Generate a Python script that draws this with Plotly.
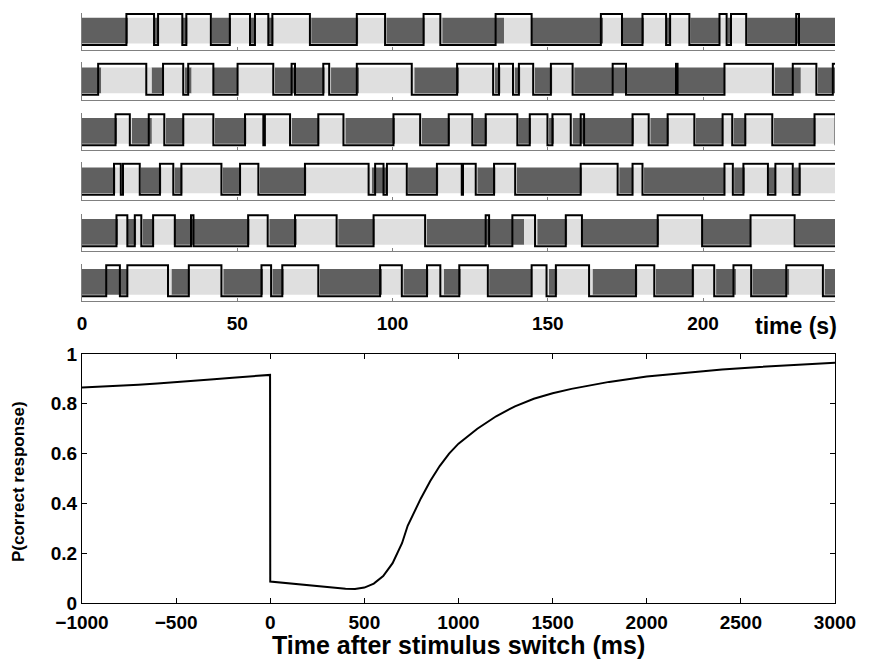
import plotly.graph_objects as go

T_END = 242.5

# ---- top panel: stimulus light intervals (s) and response-high intervals (s), per row ----
stim_light_1 = [(14.8, 23.5), (24.8, 32.2), (34.0, 41.8), (48.0, 54.3), (56.0, 60.2), (61.7, 73.8), (89.0, 98.0),
                (110.4, 116.0), (135.9, 144.9), (167.8, 174.2), (181.0, 188.3), (189.6, 195.9), (205.6, 207.8),
                (209.3, 214.2)]
resp_high_1 = [(14.3, 23.2), (24.5, 32.3), (33.6, 41.5), (47.6, 54.1), (55.7, 60.0), (61.3, 73.4), (88.5, 97.6),
               (110.0, 115.4), (133.2, 144.8), (167.1, 173.9), (180.5, 188.1), (189.4, 195.6), (205.3, 207.6),
               (209.0, 213.9), (230.0, 230.9)]

stim_light_2 = [(6.2, 22.4), (26.1, 33.1), (35.3, 42.4), (50.3, 62.1), (78.2, 80.2), (89.2, 107.0), (121.5, 133.0),
                (134.8, 139.3), (141.2, 145.8), (151.5, 158.5), (207.2, 223.0), (231.5, 237.0)]
resp_high_2 = [(5.2, 20.7), (26.1, 32.6), (34.2, 42.3), (50.1, 61.6), (67.5, 68.6), (77.7, 79.6), (88.5, 106.2),
               (120.8, 132.4), (134.3, 138.8), (140.7, 145.3), (151.0, 158.0), (170.9, 175.2), (191.3, 191.8),
               (206.9, 222.5), (228.9, 236.5), (241.8, 243.0)]

stim_light_3 = [(11.3, 16.0), (22.5, 27.0), (33.0, 42.8), (53.0, 67.5), (76.5, 84.8), (100.8, 109.4), (118.5, 126.0),
                (130.5, 140.5), (144.6, 150.4), (152.0, 158.0), (177.8, 183.0), (189.0, 197.6), (206.6, 209.8),
                (214.0, 222.8), (236.3, 243.0)]
resp_high_3 = [(10.8, 15.4), (21.5, 26.5), (32.6, 42.3), (52.5, 58.4), (58.9, 67.0), (76.1, 84.2), (100.3, 108.9),
               (118.1, 125.7), (130.0, 140.2), (144.2, 149.9), (151.5, 157.4), (160.6, 161.7), (177.3, 182.5),
               (188.6, 197.2), (206.3, 209.4), (213.6, 222.3), (235.9, 242.7)]

stim_light_4 = [(10.8, 19.0), (25.6, 29.8), (32.4, 45.3), (51.3, 57.2), (72.3, 93.3), (98.2, 105.0), (114.8, 127.3),
                (133.2, 140.0), (161.0, 173.0), (177.6, 181.0), (207.2, 210.0), (213.5, 221.2), (223.6, 229.3),
                (231.5, 243.0)]
resp_high_4 = [(10.3, 12.5), (13.2, 18.6), (25.1, 29.4), (32.0, 44.9), (50.9, 56.8), (71.8, 92.3), (94.4, 97.1),
               (98.2, 104.6), (114.3, 122.3), (122.7, 126.8), (132.7, 139.5), (160.6, 172.5), (177.3, 180.5),
               (206.9, 209.6), (213.0, 220.9), (223.3, 228.9), (231.1, 243.0)]

stim_light_5 = [(11.6, 14.8), (17.5, 19.5), (23.3, 29.5), (54.0, 60.3), (69.2, 82.5), (94.3, 111.0), (142.4, 146.6),
                (156.3, 160.7), (185.9, 199.9), (215.5, 229.9)]
resp_high_5 = [(11.1, 14.6), (17.0, 19.1), (22.9, 29.9), (35.1, 35.9), (53.5, 59.8), (68.6, 82.0), (93.9, 110.5),
               (130.0, 131.1), (138.6, 145.9), (155.8, 161.0), (185.4, 199.7), (215.3, 229.5)]

stim_light_6 = [(14.8, 28.8), (34.7, 45.5), (58.3, 61.3), (65.0, 76.5), (96.6, 103.5), (111.6, 116.5), (122.0, 131.1),
                (145.1, 150.4), (153.1, 164.4), (178.9, 184.8), (197.2, 204.2), (210.6, 215.9), (227.8, 239.1)]
resp_high_6 = [(7.8, 12.2), (14.6, 27.7), (34.4, 44.9), (57.8, 60.9), (64.5, 76.1), (96.0, 103.0), (111.1, 115.4),
               (121.5, 130.7), (144.8, 149.6), (152.6, 163.3), (178.4, 184.3), (196.7, 203.6), (209.8, 215.5),
               (226.8, 238.6)]

stim_rows = [stim_light_1, stim_light_2, stim_light_3, stim_light_4, stim_light_5, stim_light_6]
resp_rows = [resp_high_1, resp_high_2, resp_high_3, resp_high_4, resp_high_5, resp_high_6]

top_ticks = [0, 50, 100, 150, 200]

# ---- bottom panel: P(correct response) vs time after switch (ms) ----
t_ms = [-1000, -900, -800, -700, -600, -500, -400, -300, -200, -100, -1, 0, 50, 100, 200, 300, 400, 450, 500, 550,
        600, 650, 700, 730, 760, 800, 850, 900, 950, 1000, 1050, 1100, 1200, 1300, 1400, 1500, 1600, 1800, 2000,
        2200, 2400, 2600, 2800, 3000]
p_correct = [0.865, 0.868, 0.872, 0.877, 0.882, 0.887, 0.893, 0.899, 0.905, 0.910, 0.916, 0.086, 0.082, 0.078,
             0.071, 0.064, 0.057, 0.056, 0.062, 0.078, 0.108, 0.160, 0.240, 0.310, 0.360, 0.420, 0.490, 0.550,
             0.600, 0.640, 0.670, 0.700, 0.750, 0.790, 0.820, 0.842, 0.860, 0.888, 0.910, 0.925, 0.938, 0.948,
             0.957, 0.965]
bottom_xticks = [-1000, -500, 0, 500, 1000, 1500, 2000, 2500, 3000]
bottom_yticks = [0, 0.2, 0.4, 0.6, 0.8, 1]
bottom_yticklabels = ["0", "0.2", "0.4", "0.6", "0.8", "1"]

DARK = "#606060"
LIGHT = "#dfdfdf"
AXGREY = "#808080"
FAM = "Liberation Sans, Arial, sans-serif"
FONT = dict(family=FAM, size=19, color="black", weight="bold")

W, H = 876, 662


def fx(px):
    return px / W


def fy(py):
    return 1 - py / H


X0, X1 = fx(82), fx(835)
row_axis_px = [49.7, 99.5, 150.0, 199.5, 251.0, 301.0]
Y_LO, Y_HI = -0.15, 1.05
row_span_px = (Y_HI - Y_LO) * 31.0

fig = go.Figure()
layout = dict(width=W, height=H, margin=dict(l=0, r=0, t=0, b=0, autoexpand=False), paper_bgcolor="white",
              plot_bgcolor="rgba(0,0,0,0)", showlegend=False, barmode="overlay")

for i in range(6):
    n = i + 1
    xa = "x" if n == 1 else f"x{n}"
    ya = "y" if n == 1 else f"y{n}"
    light = stim_rows[i]
    # dark segments = complement of light segments
    dark = []
    prev = 0.0
    for a, b in light:
        if a > prev:
            dark.append((prev, a))
        prev = b
    if prev < T_END:
        dark.append((prev, T_END))
    segs = [(a, min(b, T_END), DARK) for a, b in dark] + [(a, min(b, T_END), LIGHT) for a, b in light]
    fig.add_trace(go.Bar(x=[(a + b) / 2 for a, b, c in segs], y=[0.83] * len(segs), base=[0.05] * len(segs),
                         width=[b - a for a, b, c in segs], marker=dict(color=[c for a, b, c in segs], line=dict(width=0)),
                         xaxis=xa, yaxis=ya, hoverinfo="skip"))
    xs, ys = [0.0], [0]
    for a, b in resp_rows[i]:
        xs += [a, b]
        ys += [1, 0]
    xs.append(T_END)
    ys.append(ys[-1])
    fig.add_trace(go.Scatter(x=xs, y=ys, mode="lines", line=dict(color="black", width=2, shape="hv"),
                             xaxis=xa, yaxis=ya, hoverinfo="skip"))
    a_px = row_axis_px[i]
    dom = [fy(a_px), fy(a_px - row_span_px)]
    key_x = "xaxis" if n == 1 else f"xaxis{n}"
    key_y = "yaxis" if n == 1 else f"yaxis{n}"
    layout[key_x] = dict(domain=[X0, X1], anchor=ya, range=[0, T_END], showgrid=False, zeroline=False,
                         showline=True, linecolor=AXGREY, linewidth=1, ticks="inside", ticklen=3,
                         tickcolor=AXGREY, tickvals=top_ticks, showticklabels=(n == 6),
                         tickfont=FONT, ticklabelstandoff=5, automargin=False)
    layout[key_y] = dict(domain=dom, anchor=xa, range=[Y_LO, Y_HI], showgrid=False, zeroline=False,
                         showline=True, linecolor=AXGREY, linewidth=1, showticklabels=False, ticks="",
                         automargin=False)

fig.add_trace(go.Scatter(x=t_ms, y=p_correct, mode="lines", line=dict(color="black", width=2),
                         xaxis="x7", yaxis="y7", hoverinfo="skip"))
layout["xaxis7"] = dict(domain=[X0, X1], anchor="y7", range=[-1000, 3000], tickvals=bottom_xticks,
                        ticktext=[str(v).replace("-", "\u2212") for v in bottom_xticks],
                        showgrid=False, zeroline=False, showline=True, linecolor="black", linewidth=1,
                        mirror="ticks", ticks="inside", ticklen=5, tickcolor="black", tickfont=FONT,
                        ticklabelstandoff=2, automargin=False)
layout["yaxis7"] = dict(domain=[fy(603), fy(354)], anchor="x7", range=[0, 1], tickvals=bottom_yticks,
                        ticktext=bottom_yticklabels, showgrid=False, zeroline=False, showline=True,
                        linecolor="black", linewidth=1, mirror="ticks", ticks="inside", ticklen=5,
                        tickcolor="black", tickfont=FONT, automargin=False)

layout["annotations"] = [
    dict(text="time (s)", x=fx(796), y=fy(326), xref="paper", yref="paper", showarrow=False,
         font=dict(family=FAM, size=23, color="black", weight="bold"), xanchor="center", yanchor="middle"),
    dict(text="Time after stimulus switch (ms)", x=fx(458), y=fy(645), xref="paper", yref="paper",
         showarrow=False, font=dict(family=FAM, size=25, color="black", weight="bold"),
         xanchor="center", yanchor="middle"),
    dict(text="P(correct response)", x=fx(18), y=fy(482), xref="paper", yref="paper", showarrow=False,
         font=dict(family=FAM, size=17, color="black", weight="bold"), textangle=-90,
         xanchor="center", yanchor="middle"),
]
fig.update_layout(**layout)
# remove the browser's default 8 px body margin so the figure fills the window exactly
fig.write_html("out.html", config={"displayModeBar": False, "staticPlot": True},
               post_script="document.body.style.margin='0';document.body.style.overflow='hidden';")
